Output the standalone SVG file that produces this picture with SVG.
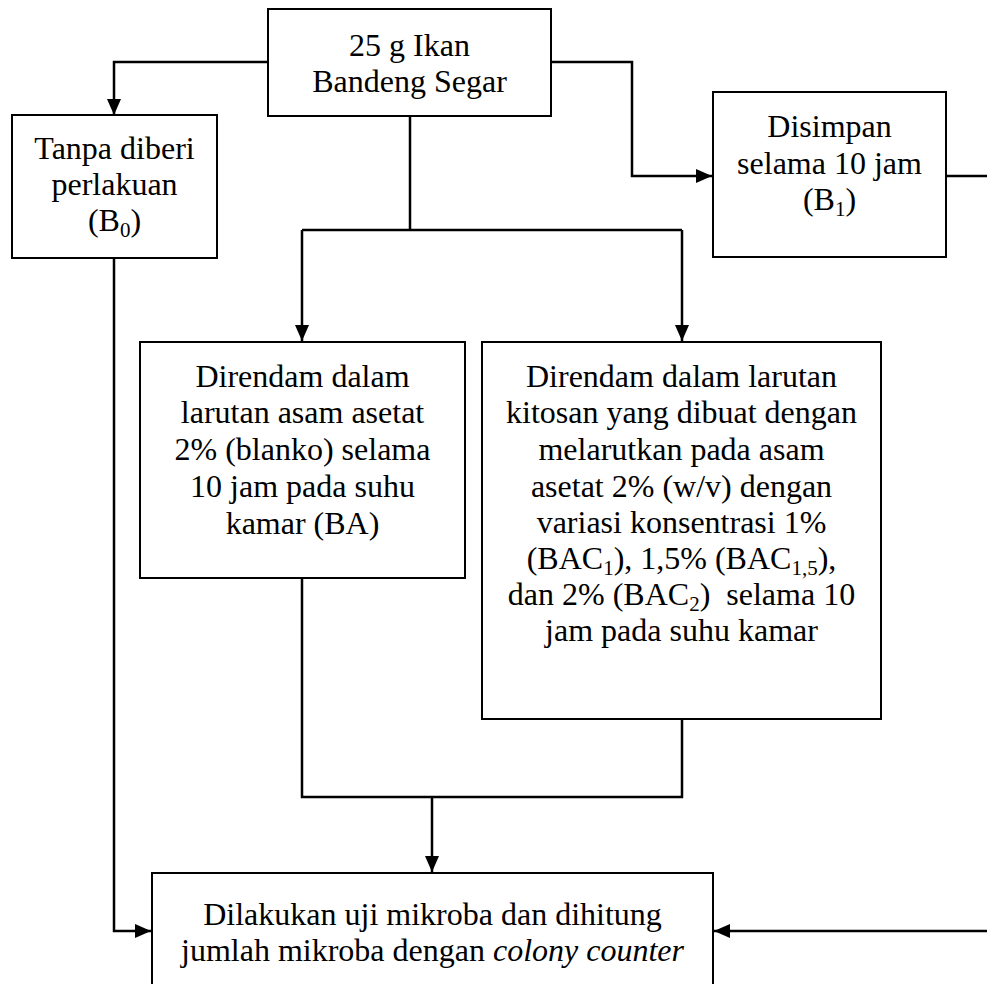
<svg xmlns="http://www.w3.org/2000/svg" width="987" height="984" viewBox="0 0 987 984">
  <style>
    .box { fill: #ffffff; stroke: #000000; stroke-width: 2; }
    .lbl { font-family: "Liberation Serif", "Times New Roman", serif; font-size: 32px; fill: #000000; text-anchor: middle; white-space: pre; }
    .sub { font-size: 21px; }
    .link { fill: none; stroke: #000000; stroke-width: 2.5; }
    .arrow { marker-end: url(#head); }
  </style>
  <defs>
    <marker id="head" viewBox="0 0 16 14" refX="16" refY="7" markerWidth="16" markerHeight="14" markerUnits="userSpaceOnUse" orient="auto">
      <path d="M0,0 L16,7 L0,14 Z" fill="#000000"/>
    </marker>
  </defs>
  <rect width="987" height="984" fill="#ffffff"/>

  <!-- connectors -->
  <g id="connectors">
    <path class="link arrow" d="M268,62 H114 V115"/>
    <path class="link arrow" d="M551,62 H632 V176 H712"/>
    <path class="link" d="M410,116 V230"/>
    <path class="link arrow" d="M302,230 H682 M302,230 V341"/>
    <path class="link arrow" d="M682,230 V341"/>
    <path class="link" d="M946,176 H990"/>
    <path class="link" d="M302,578 V797 H682 V719"/>
    <path class="link arrow" d="M432,797 V872"/>
    <path class="link arrow" d="M114,258 V931 H151"/>
    <path class="link arrow" d="M990,931 H714"/>
  </g>

  <g id="start">
    <rect class="box" x="268" y="9" width="283" height="107"/>
    <text class="lbl" x="409.5" y="56">25 g Ikan</text>
    <text class="lbl" x="409.5" y="92">Bandeng Segar</text>
  </g>

  <g id="b0">
    <rect class="box" x="12" y="115" width="205" height="143"/>
    <text class="lbl" x="114.5" y="159">Tanpa diberi</text>
    <text class="lbl" x="114.5" y="195">perlakuan</text>
    <text class="lbl" x="114.5" y="231">(B<tspan class="sub" dy="6">0</tspan><tspan dy="-6">)</tspan></text>
  </g>

  <g id="b1">
    <rect class="box" x="713" y="92" width="233" height="165"/>
    <text class="lbl" x="829.5" y="137">Disimpan</text>
    <text class="lbl" x="829.5" y="174">selama 10 jam</text>
    <text class="lbl" x="829.5" y="210">(B<tspan class="sub" dy="6">1</tspan><tspan dy="-6">)</tspan></text>
  </g>

  <g id="ba">
    <rect class="box" x="140" y="342" width="325" height="236"/>
    <text class="lbl" x="302.5" y="387">Direndam dalam</text>
    <text class="lbl" x="302.5" y="423">larutan asam asetat</text>
    <text class="lbl" x="302.5" y="460">2% (blanko) selama</text>
    <text class="lbl" x="302.5" y="497">10 jam pada suhu</text>
    <text class="lbl" x="302.5" y="534">kamar (BA)</text>
  </g>

  <g id="bac">
    <rect class="box" x="482" y="342" width="399" height="377"/>
    <text class="lbl" x="681.5" y="387">Direndam dalam larutan</text>
    <text class="lbl" x="681.5" y="423">kitosan yang dibuat dengan</text>
    <text class="lbl" x="681.5" y="460">melarutkan pada asam</text>
    <text class="lbl" x="681.5" y="497">asetat 2% (w/v) dengan</text>
    <text class="lbl" x="681.5" y="533">variasi konsentrasi 1%</text>
    <text class="lbl" x="681.5" y="569">(BAC<tspan class="sub" dy="6">1</tspan><tspan dy="-6">), 1,5% (BAC</tspan><tspan class="sub" dy="6">1,5</tspan><tspan dy="-6">),</tspan></text>
    <text class="lbl" x="681.5" y="605">dan 2% (BAC<tspan class="sub" dy="6">2</tspan><tspan dy="-6">)  selama 10</tspan></text>
    <text class="lbl" x="681.5" y="641">jam pada suhu kamar</text>
  </g>

  <g id="test">
    <rect class="box" x="152" y="873" width="561" height="130"/>
    <text class="lbl" x="432.5" y="925">Dilakukan uji mikroba dan dihitung</text>
    <text class="lbl" x="432.5" y="961">jumlah mikroba dengan <tspan font-style="italic">colony counter</tspan></text>
  </g>
</svg>
